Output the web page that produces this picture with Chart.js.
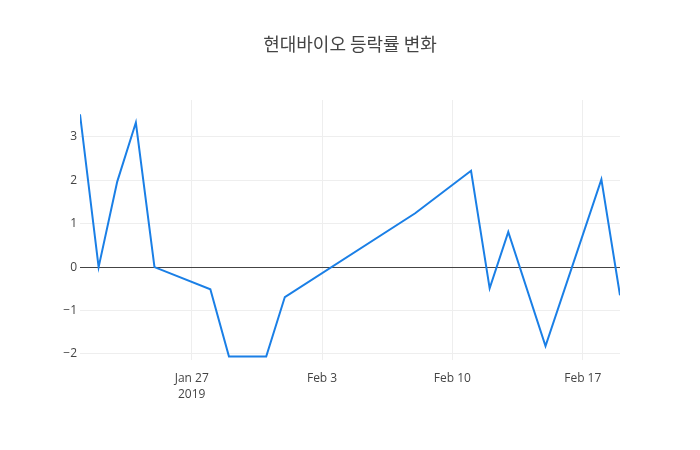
<!DOCTYPE html>
<html>
<head>
<meta charset="utf-8">
<script src="https://cdn.jsdelivr.net/npm/chart.js@4"></script>
<style>
html,body{margin:0;padding:0;background:#fff;}
#wrap{width:700px;height:450px;position:relative;}
</style>
</head>
<body>
<div id="wrap"><canvas id="c" width="700" height="450"></canvas></div>
<script>
const dates = ['2019-01-21','2019-01-22','2019-01-23','2019-01-24','2019-01-25',
  '2019-01-28','2019-01-29','2019-01-31','2019-02-01','2019-02-08',
  '2019-02-11','2019-02-12','2019-02-13','2019-02-15','2019-02-18','2019-02-19'];
const changes = [3.52, 0.0, 1.97, 3.33, 0.0,
  -0.51, -2.06, -2.06, -0.69, 1.24,
  2.22, -0.49, 0.81, -1.82, 2.02, -0.65];
const xTickDates = ['2019-01-27','2019-02-03','2019-02-10','2019-02-17'];
const xTickLabels = [['Jan 27','2019'], 'Feb 3', 'Feb 10', 'Feb 17'];
const yTicks = [-2, -1, 0, 1, 2, 3];
const title = '현대바이오 등락률 변화';

const DAY = 86400000;
const base = Date.UTC(2019,0,1);
const toDay = s => { const [y,m,d] = s.split('-').map(Number); return (Date.UTC(y,m-1,d)-base)/DAY; };
const points = dates.map((d,i)=>({x: toDay(d), y: changes[i]}));
const tickDays = xTickDates.map(toDay);

const font = {family: '"Open Sans", "Noto Sans", sans-serif', size: 12};

new Chart(document.getElementById('c'), {
  type: 'line',
  data: {datasets: [{
    data: points,
    borderColor: '#1a7fe6',
    borderWidth: 2,
    pointRadius: 0,
    tension: 0,
    fill: false,
    yAxisID: 'y'
  }]},
  options: {
    responsive: false,
    animation: false,
    layout: {padding: 0},
    plugins: {
      legend: {display: false},
      tooltip: {enabled: false},
      title: {
        display: true,
        text: title,
        color: '#444',
        font: {family: '"Noto Sans CJK KR", "Open Sans", sans-serif', size: 18, weight: 'normal', lineHeight: 1.2},
        padding: {top: 33.4, bottom: 45}
      }
    },
    scales: {
      x: {
        type: 'linear',
        min: toDay(dates[0]),
        max: toDay(dates[dates.length-1]),
        afterBuildTicks: axis => { axis.ticks = tickDays.map(v=>({value: v})); },
        afterFit: axis => { axis.height = 90; },
        ticks: {
          color: '#444',
          font: {...font, lineHeight: 1.35},
          padding: 10,
          maxRotation: 0,
          autoSkip: false,
          callback: (v) => { const i = tickDays.indexOf(v); return i >= 0 ? xTickLabels[i] : ''; }
        },
        grid: {color: '#eee', lineWidth: 1, drawTicks: false},
        border: {display: false}
      },
      y: {
        type: 'linear',
        position: 'left',
        min: -2.14,
        max: 3.85,
        afterBuildTicks: axis => { axis.ticks = yTicks.map(v=>({value: v})); },
        afterFit: axis => { axis.width = 80; },
        ticks: {
          color: '#444',
          font: font,
          padding: 3,
          callback: v => v < 0 ? '\u2212' + Math.abs(v) : String(v)
        },
        grid: {
          color: ctx => (ctx.tick && ctx.tick.value === 0) ? '#444' : '#eee',
          lineWidth: 1,
          drawTicks: false
        },
        border: {display: false}
      },
      yRight: {
        type: 'linear',
        position: 'right',
        display: true,
        min: 0, max: 1,
        afterFit: axis => { axis.width = 80; },
        ticks: {display: false},
        grid: {display: false, drawTicks: false},
        border: {display: false}
      }
    }
  }
});
</script>
</body>
</html>
